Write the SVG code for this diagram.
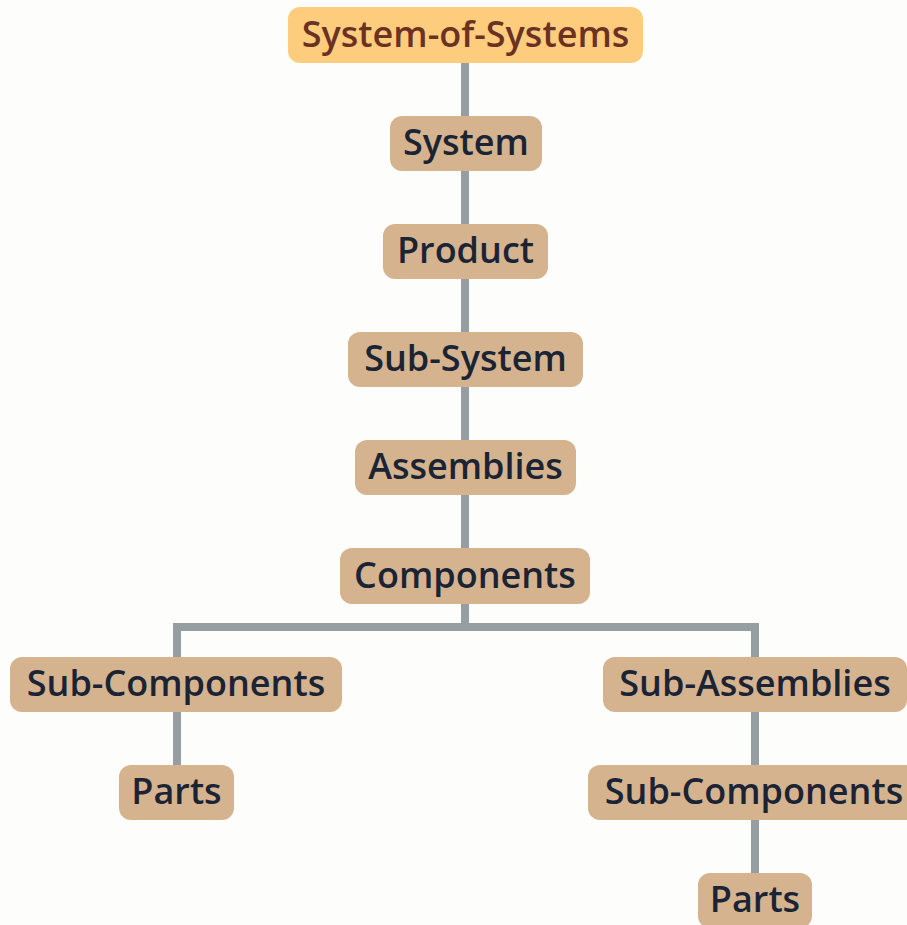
<svg xmlns="http://www.w3.org/2000/svg" width="907" height="925" viewBox="0 0 907 925">
  <style>
    .bg { fill: #FDFDFC; }
    .link { fill: none; stroke: #959EA2; stroke-width: 8; }
    .box { fill: #D5B38F; }
    .root { fill: #FDCD7D; }
    .lbl { font-family: "Open Sans", "Noto Sans", sans-serif; font-weight: 600; font-size: 36px; fill: #1B2435; text-anchor: middle; dominant-baseline: central; }
    .rootlbl { fill: #6B3224; }
  </style>
  <rect class="bg" x="0" y="0" width="907" height="925"/>
  <g id="connectors">
    <path class="link" d="M465 63 V548"/>
    <path class="link" d="M465 604 V627 M177 712 V627 H755 V712"/>
    <path class="link" d="M177 712 V765"/>
    <path class="link" d="M755 712 V873"/>
  </g>
  <g id="system-of-systems">
    <rect class="root" x="288" y="7" width="355" height="56" rx="12"/>
    <text class="lbl rootlbl" x="465.5" y="33">System-of-Systems</text>
  </g>
  <g id="system">
    <rect class="box" x="390" y="116" width="152" height="55" rx="12"/>
    <text class="lbl" x="466" y="141.5">System</text>
  </g>
  <g id="product">
    <rect class="box" x="383" y="224" width="165" height="55" rx="12"/>
    <text class="lbl" x="465.5" y="249.5">Product</text>
  </g>
  <g id="sub-system">
    <rect class="box" x="348" y="332" width="235" height="55" rx="12"/>
    <text class="lbl" x="465.5" y="357.5">Sub-System</text>
  </g>
  <g id="assemblies">
    <rect class="box" x="355" y="440" width="221" height="55" rx="12"/>
    <text class="lbl" x="465.5" y="465.5">Assemblies</text>
  </g>
  <g id="components">
    <rect class="box" x="340" y="548" width="250" height="56" rx="12"/>
    <text class="lbl" x="465" y="574">Components</text>
  </g>
  <g id="sub-components-left">
    <rect class="box" x="10" y="657" width="332" height="55" rx="12"/>
    <text class="lbl" x="176" y="682.5">Sub-Components</text>
  </g>
  <g id="parts-left">
    <rect class="box" x="119" y="765" width="115" height="55" rx="12"/>
    <text class="lbl" x="176.5" y="790.5">Parts</text>
  </g>
  <g id="sub-assemblies">
    <rect class="box" x="603" y="657" width="304" height="55" rx="12"/>
    <text class="lbl" x="755" y="682.5">Sub-Assemblies</text>
  </g>
  <g id="sub-components-right">
    <rect class="box" x="588" y="765" width="332" height="55" rx="12"/>
    <text class="lbl" x="754" y="790.5">Sub-Components</text>
  </g>
  <g id="parts-right">
    <rect class="box" x="698" y="873" width="114" height="55" rx="12"/>
    <text class="lbl" x="755" y="898.5">Parts</text>
  </g>
</svg>
